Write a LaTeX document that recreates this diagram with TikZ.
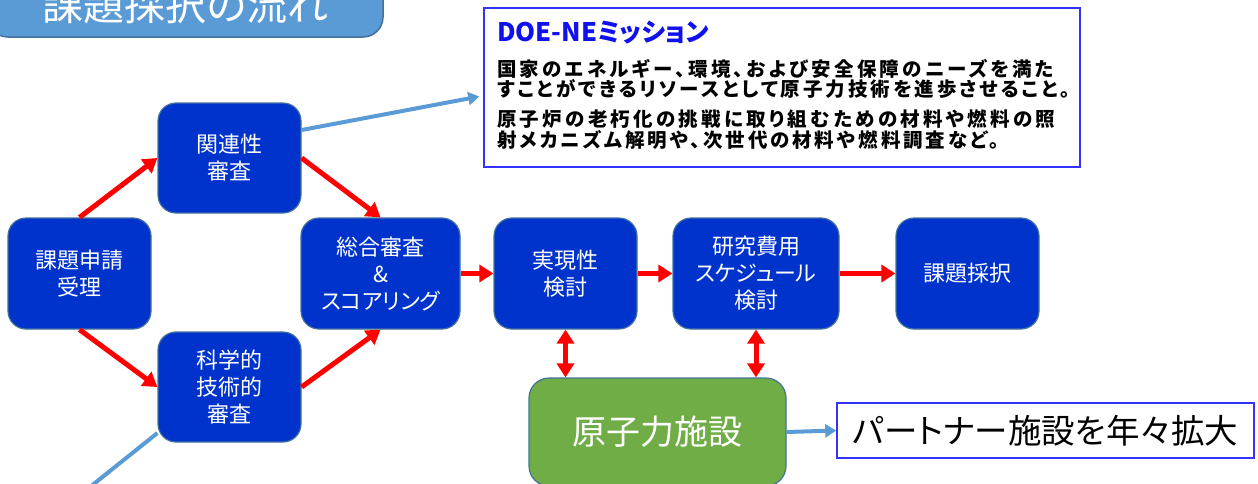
\documentclass[tikz,border=0pt]{standalone}
\usepackage{fontspec}
\setmainfont{Noto Sans CJK JP}[RawFeature=+palt]
\usetikzlibrary{arrows.meta}
\definecolor{boxblue}{HTML}{0033CC}
\definecolor{edgeblue}{HTML}{41719C}
\definecolor{lightblue}{HTML}{5B9BD5}
\definecolor{leafgreen}{HTML}{70AD47}
\definecolor{frameblue}{HTML}{3333FF}
\definecolor{doeblue}{HTML}{1111EE}
\begin{document}
\begin{tikzpicture}[x=1pt,y=-1pt,
 stage/.style={rounded corners=18pt, fill=boxblue, draw=edgeblue, line width=1.2pt, text=white, align=center, minimum width=143pt, minimum height=110pt, inner sep=0pt, font=\fontsize{22}{27}\selectfont},
 flow/.style={draw=red, line width=5pt, ->, >={Triangle[length=14pt,width=17pt]}},
 both/.style={draw=red, line width=5pt, <->, >={Triangle[length=14pt,width=17pt]}},
 link/.style={draw=lightblue, line width=4pt},
 linkarrow/.style={link, ->, >={Triangle[length=11pt,width=13pt]}},
 missline/.style={anchor=west, inner sep=0pt, font=\fontsize{19.5}{19.5}\bfseries\selectfont\addfontfeature{LetterSpace=#1}}
]
\useasboundingbox (0,0) rectangle (1258,483);

% title
\node[rounded corners=20pt, fill=lightblue, draw=edgeblue, line width=1.5pt, text=white,
      minimum width=395pt, minimum height=65pt, inner sep=0pt,
      font=\fontsize{41}{41}\selectfont] (title) at (185.5,4.5) {課題採択の流れ};

% mission box
\node[draw=frameblue, line width=1.5pt, minimum width=596pt, minimum height=159pt, inner sep=0pt] (mission) at (782,87.5) {};
\node[anchor=west, inner sep=0pt, font=\fontsize{25.5}{25.5}\bfseries\selectfont, text=doeblue] (m0) at (497,33) {DOE-NEミッション};
\node[missline=16.6] (m1) at (497,68.5) {国家のエネルギー、環境、および安全保障のニーズを満た};
\node[missline=15.2] (m2) at (497,88.5) {すことができるリソースとして原子力技術を進歩させること。};
\node[missline=16.8] (m3) at (497,119) {原子炉の老朽化の挑戦に取り組むための材料や燃料の照};
\node[missline=14.8] (m4) at (497,140) {射メカニズム解明や、次世代の材料や燃料調査など。};

% stages
\node[stage, minimum height=111pt] (req) at (79.5,273.5) {課題申請\\受理};
\node[stage] (rel) at (229.5,158) {関連性\\審査};
\node[stage] (sci) at (229.5,387) {科学的\\技術的\\審査};
\node[stage, minimum width=159pt, minimum height=111pt] (tot) at (380.5,273.5) {総合審査\\\&\\スコアリング};
\node[stage, minimum height=111pt] (fea) at (565.5,273.5) {実現性\\検討};
\node[stage, minimum width=166pt, minimum height=111pt] (cost) at (756,273.5) {研究費用\\スケジュール\\検討};
\node[stage, minimum height=111pt] (adopt) at (967.5,273.5) {課題採択};

\node[rounded corners=20pt, fill=leafgreen, draw=edgeblue, line width=1.2pt, text=white,
      minimum width=257pt, minimum height=108pt, inner sep=0pt,
      font=\fontsize{34}{34}\selectfont] (nf) at (657.5,432) {原子力施設};
\node[draw=frameblue, line width=1.5pt, minimum width=417pt, minimum height=55pt, inner sep=0pt,
      font=\fontsize{33.5}{33.5}\selectfont] (partner) at (1045.5,430.5) {パートナー施設を年々拡大};

% red flow
\draw[flow] (req.north) -- (rel.west);
\draw[flow] (req.south) -- (sci.west);
\draw[flow] (rel.east) -- (tot.north);
\draw[flow] (sci.east) -- (tot.south);
\draw[flow] (tot.east) -- (fea.west);
\draw[flow] (fea.east) -- (cost.west);
\draw[flow] (cost.east) -- (adopt.west);
\draw[both] (fea.south) -- (fea.south |- nf.north);
\draw[both] (cost.south) -- (cost.south |- nf.north);

% blue links
\draw[linkarrow] ([yshift=28pt]rel.east) -- ([xshift=-4pt,yshift=-9pt]mission.west);
\coordinate (sciend) at (90,487);
\draw[link] ([yshift=-46pt]sci.west) -- (sciend);
\draw[linkarrow] (nf.east) -- (partner.west);
\end{tikzpicture}
\end{document}
